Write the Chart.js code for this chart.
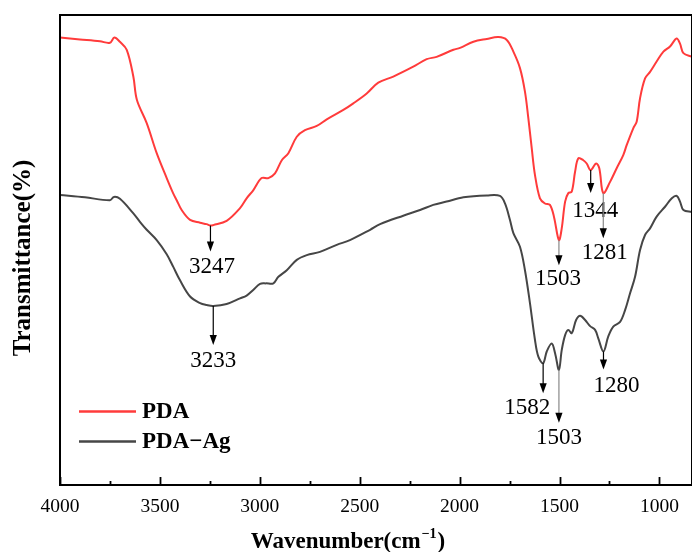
<!DOCTYPE html>
<html>
<head>
<meta charset="utf-8">
<script src="https://cdn.jsdelivr.net/npm/chart.js@4.4.0/dist/chart.umd.min.js"></script>
<style>
  html, body { margin: 0; padding: 0; background: #fff; }
</style>
</head>
<body>
<canvas id="myChart" width="692" height="552"></canvas>
<script>
// FTIR spectra, wavenumber (cm-1) vs transmittance (arbitrary, offset curves)
const pdaWavenumber = [4000, 3900, 3800, 3750, 3728, 3700, 3666, 3633, 3615, 3566, 3516, 3466, 3434, 3416, 3391, 3349, 3299, 3266, 3247, 3233, 3166, 3099, 3066, 3033, 2991, 2957, 2924, 2890, 2857, 2815, 2774, 2715, 2665, 2582, 2532, 2465, 2407, 2332, 2232, 2165, 2115, 2031, 1998, 1931, 1864, 1806, 1764, 1731, 1698, 1673, 1656, 1639, 1623, 1598, 1573, 1548, 1528, 1503, 1489, 1472, 1456, 1439, 1422, 1406, 1381, 1364, 1344, 1317, 1301, 1281, 1247, 1214, 1181, 1164, 1131, 1114, 1097, 1072, 1047, 1014, 980, 947, 914, 897, 880, 837];
const pdaValue = [95.2, 94.8, 94.4, 94.1, 95.2, 94.3, 92.6, 86.9, 81.9, 77.0, 70.6, 65.3, 62.1, 60.6, 58.5, 56.4, 55.8, 55.5, 55.2, 55.3, 56.2, 58.9, 61.0, 62.7, 65.3, 65.3, 66.3, 69.1, 70.6, 74.1, 75.5, 76.4, 77.8, 79.8, 81.2, 83.3, 85.6, 86.9, 89.0, 90.6, 91.1, 92.6, 93.0, 94.3, 94.9, 95.3, 94.7, 92.2, 88.7, 83.7, 78.0, 71.6, 66.0, 61.0, 59.9, 59.6, 57.1, 52.1, 54.6, 60.3, 62.1, 62.4, 66.7, 69.5, 69.1, 68.4, 67.0, 68.4, 67.4, 62.1, 64.5, 67.4, 70.2, 72.3, 75.9, 77.3, 82.3, 86.5, 87.9, 90.1, 92.2, 93.3, 95.0, 93.9, 91.9, 91.1];

const agWavenumber = [4000, 3875, 3750, 3730, 3700, 3635, 3600, 3566, 3516, 3466, 3433, 3400, 3349, 3299, 3266, 3233, 3166, 3099, 3066, 3033, 2999, 2969, 2932, 2907, 2865, 2815, 2765, 2699, 2615, 2549, 2448, 2398, 2282, 2198, 2132, 2065, 1981, 1864, 1798, 1773, 1748, 1731, 1698, 1673, 1648, 1623, 1606, 1582, 1564, 1539, 1522, 1503, 1489, 1472, 1456, 1439, 1417, 1397, 1372, 1347, 1322, 1306, 1280, 1256, 1231, 1197, 1172, 1147, 1122, 1097, 1072, 1047, 1014, 972, 938, 913, 897, 880, 837];
const agValue = [61.7, 61.2, 60.6, 61.3, 60.9, 57.9, 56.0, 54.3, 52.1, 49.1, 46.4, 43.6, 40.1, 38.7, 38.3, 38.1, 38.5, 39.7, 40.3, 41.5, 42.8, 42.9, 42.9, 44.3, 45.7, 47.9, 48.9, 49.6, 51.1, 52.1, 54.3, 55.5, 57.3, 58.5, 59.6, 60.3, 61.2, 61.6, 61.5, 59.9, 56.4, 53.6, 50.7, 45.7, 38.7, 30.9, 27.3, 25.9, 28.4, 30.1, 28.0, 24.5, 28.7, 31.9, 33.0, 32.3, 35.1, 36.0, 35.1, 33.8, 33.0, 31.2, 28.4, 31.6, 33.7, 34.7, 37.2, 40.8, 44.3, 50.0, 53.2, 54.6, 57.1, 59.2, 61.0, 61.5, 60.3, 58.5, 58.1];

const seriesNames = ['PDA', 'PDA\u2212Ag'];
const tickValues = [1000, 1500, 2000, 2500, 3000, 3500, 4000];
const minorTickValues = [1250, 1750, 2250, 2750, 3250, 3750];

// marked peaks: wavenumber + which series (0 = PDA, 1 = PDA-Ag)
const peakWavenumber = [3247, 1503, 1344, 1281, 3233, 1582, 1503, 1280];
const peakSeries = [0, 0, 0, 0, 1, 1, 1, 1];

const serif = "'Liberation Serif', 'Times New Roman', serif";
const colors = ['#ff3b3b', '#464646'];

// arrow length / label offset per peak (pixels)
const peakLayout = [
  { len: 26, dx: 1.5, dy: 15, stem: '#000' },
  { len: 25, dx: -1, dy: 14, stem: '#888' },
  { len: 23, dx: 4.5, dy: 18, stem: '#000' },
  { len: 45, dx: 1.5, dy: 15, stem: '#888' },
  { len: 39, dx: 0, dy: 16, stem: '#000' },
  { len: 30, dx: -16, dy: 15, stem: '#000' },
  { len: 53, dx: 0, dy: 15, stem: '#888' },
  { len: 18, dx: 13, dy: 16, stem: '#000' }
];

function toPoints(xs, ys) {
  return xs.map((x, i) => ({ x: x, y: ys[i] }));
}

const decorPlugin = {
  id: 'decor',
  afterDatasetsDraw(chart) {
    const ctx = chart.ctx;
    const area = chart.chartArea;
    const xs = chart.scales.x;
    const ys = chart.scales.y;
    ctx.save();

    // frame
    ctx.strokeStyle = '#000';
    ctx.lineWidth = 2;
    ctx.strokeRect(area.left, area.top, area.right - area.left, area.bottom - area.top);

    // inward ticks on bottom axis
    ctx.lineWidth = 1.8;
    ctx.beginPath();
    tickValues.forEach(v => {
      const px = Math.round(xs.getPixelForValue(v)) + 0.5;
      ctx.moveTo(px, area.bottom);
      ctx.lineTo(px, area.bottom - 8);
    });
    minorTickValues.forEach(v => {
      const px = Math.round(xs.getPixelForValue(v)) + 0.5;
      ctx.moveTo(px, area.bottom);
      ctx.lineTo(px, area.bottom - 4);
    });
    ctx.stroke();

    // peak arrows and labels
    const srcX = [pdaWavenumber, agWavenumber];
    const srcY = [pdaValue, agValue];
    ctx.font = '23px ' + serif;
    ctx.textAlign = 'center';
    ctx.textBaseline = 'middle';
    peakWavenumber.forEach((wn, i) => {
      const s = peakSeries[i];
      const idx = srcX[s].indexOf(wn);
      const lay = peakLayout[i];
      const px = xs.getPixelForValue(wn);
      const y0 = ys.getPixelForValue(srcY[s][idx]);
      const tip = y0 + lay.len;
      ctx.strokeStyle = lay.stem;
      ctx.lineWidth = 1.2;
      ctx.beginPath();
      ctx.moveTo(px, y0);
      ctx.lineTo(px, tip - 9);
      ctx.stroke();
      ctx.fillStyle = '#000';
      ctx.beginPath();
      ctx.moveTo(px - 3.6, tip - 10);
      ctx.lineTo(px + 3.6, tip - 10);
      ctx.lineTo(px, tip);
      ctx.closePath();
      ctx.fill();
      ctx.fillText(String(wn), px + lay.dx, tip + lay.dy);
    });

    // legend
    ctx.textAlign = 'left';
    ctx.font = 'bold 23px ' + serif;
    seriesNames.forEach((name, i) => {
      const y = 411.5 + i * 30;
      ctx.strokeStyle = colors[i];
      ctx.lineWidth = 2.5;
      ctx.beginPath();
      ctx.moveTo(79, y);
      ctx.lineTo(136, y);
      ctx.stroke();
      ctx.fillStyle = '#000';
      ctx.fillText(name, 142, y + 1);
    });

    // x axis title with superscript
    ctx.textBaseline = 'alphabetic';
    const base = 'Wavenumber(cm';
    const sup = '\u22121';
    const fMain = 'bold 23px ' + serif;
    const fSup = 'bold 14px ' + serif;
    ctx.font = fMain;
    const w1 = ctx.measureText(base).width;
    const w3 = ctx.measureText(')').width;
    ctx.font = fSup;
    const w2 = ctx.measureText(sup).width;
    let x0 = 347 - (w1 + w2 + w3) / 2;
    const yb = 548;
    ctx.font = fMain;
    ctx.fillText(base, x0, yb);
    ctx.font = fSup;
    ctx.fillText(sup, x0 + w1 + 1, yb - 10);
    ctx.font = fMain;
    ctx.fillText(')', x0 + w1 + w2 + 2, yb);

    // y axis title
    ctx.translate(30, 258);
    ctx.rotate(-Math.PI / 2);
    ctx.textAlign = 'center';
    ctx.font = 'bold 25px ' + serif;
    ctx.fillText('Transmittance(%)', 0, 0);

    ctx.restore();
  }
};

const ctx = document.getElementById('myChart').getContext('2d');
const myChart = new Chart(ctx, {
  type: 'line',
  data: {
    datasets: [
      {
        label: seriesNames[0],
        data: toPoints(pdaWavenumber, pdaValue),
        borderColor: colors[0],
        borderWidth: 2,
        pointRadius: 0,
        tension: 0.35
      },
      {
        label: seriesNames[1],
        data: toPoints(agWavenumber, agValue),
        borderColor: colors[1],
        borderWidth: 2,
        pointRadius: 0,
        tension: 0.35
      }
    ]
  },
  options: {
    responsive: false,
    animation: false,
    devicePixelRatio: 1,
    layout: { padding: { left: 60, top: 15, right: 0, bottom: 0 } },
    plugins: {
      legend: { display: false },
      tooltip: { enabled: false }
    },
    scales: {
      x: {
        type: 'linear',
        reverse: true,
        min: 837,
        max: 4000,
        grid: { display: false, drawTicks: false },
        border: { display: false },
        ticks: {
          color: '#000',
          font: { family: serif, size: 19.5 },
          padding: 10,
          maxRotation: 0,
          autoSkip: false,
          callback: v => String(v)
        },
        afterBuildTicks: s => { s.ticks = tickValues.map(v => ({ value: v })); },
        afterFit: s => { s.height = 67; }
      },
      y: {
        display: false,
        min: 0,
        max: 100
      }
    }
  },
  plugins: [decorPlugin]
});
</script>
</body>
</html>
